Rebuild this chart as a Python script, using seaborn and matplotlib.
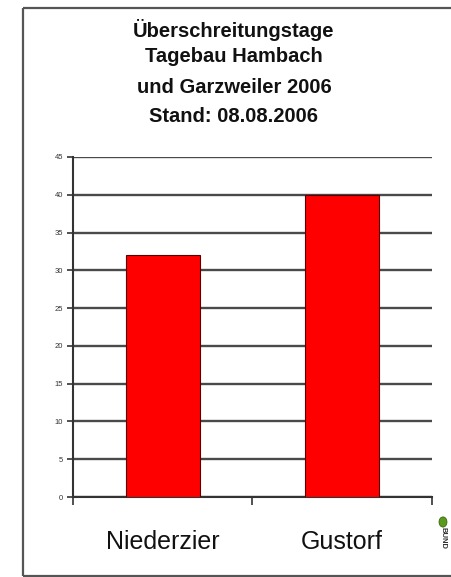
import matplotlib
matplotlib.use("Agg")
import matplotlib.pyplot as plt
import seaborn as sns
import pandas as pd
from matplotlib.patches import Circle
from matplotlib.lines import Line2D

categories = ["Niederzier", "Gustorf"]
values = [32, 40]
yticks = [0, 5, 10, 15, 20, 25, 30, 35, 40, 45]
title_lines = ["Überschreitungstage", "Tagebau Hambach", "und Garzweiler 2006", "Stand: 08.08.2006"]

sns.set_style("white")
plt.rcParams['font.family'] = ['Liberation Sans', 'DejaVu Sans']

fig = plt.figure(figsize=(4.52, 5.77), dpi=100)
fig.patch.set_linewidth(0)
W, H = 452, 577
ax = fig.add_axes([73 / W, 1 - 497 / H, (432 - 73) / W, (497 - 157) / H])

df = pd.DataFrame({"cat": categories, "val": values})
sns.barplot(data=df, x="cat", y="val", ax=ax, color="#ff0000", saturation=1,
            width=0.41, edgecolor="#5a0000", linewidth=0.8, zorder=3)

ax.set_xlim(-0.5, 1.5)
ax.set_ylim(0, 45)
ax.set_yticks(yticks)
ax.set_yticklabels([str(v) for v in yticks], fontsize=5.5, color="#333333")
ax.yaxis.grid(True, color="#4a4a4a", linewidth=1.7, zorder=0)
ax.set_axisbelow(True)
for s in ["top", "right"]:
    ax.spines[s].set_visible(False)
for s in ["left", "bottom"]:
    ax.spines[s].set_color("#333333")
    ax.spines[s].set_linewidth(1.5)
ax.tick_params(axis="y", direction="out", length=4, width=1.2, color="#333333", pad=3, left=True)

# category boundary ticks (major) and labels (minor)
ax.set_xticks([-0.5, 0.5, 1.5])
ax.set_xticklabels(["", "", ""])
ax.set_xticks([0, 1], minor=True)
ax.set_xticklabels(categories, minor=True, fontsize=18, color="#111111")
ax.tick_params(axis="x", which="major", direction="out", length=6, width=1.2, color="#333333", bottom=True)
ax.tick_params(axis="x", which="minor", length=0, pad=24)
ax.set_xlabel("")
ax.set_ylabel("")

# title
ys = [30, 57, 87, 116]
for line, y in zip(title_lines, ys):
    fig.text(234 / W, 1 - y / H, line, ha="center", va="center", fontsize=14.5,
             fontweight="bold", color="#111111")

# outer frame (left, top, bottom lines; right side runs off the image)
fx0, fx1, fy0, fy1 = 23 / W, 1.05, 1 - 576 / H, 1 - 8 / H
for xs, ys_ in [([fx0, fx0], [fy0, fy1]), ([fx0, fx1], [fy1, fy1]), ([fx0, fx1], [fy0, fy0])]:
    fig.lines.append(Line2D(xs, ys_, transform=fig.transFigure, color="#555555",
                            linewidth=1.6, solid_capstyle="butt"))

# BUND logo
fig.patches.append(Circle((443 / W, 1 - 522 / H), 4 / W, transform=fig.transFigure,
                          facecolor="#5a9a1a", edgecolor="#2d5a0a", linewidth=0.5))
fig.text(443 / W, 1 - 538 / H, "BUND", rotation=-90, ha="center", va="center",
         fontsize=5.5, fontweight="bold", color="#333333")

fig.savefig("out.png", dpi=100)
